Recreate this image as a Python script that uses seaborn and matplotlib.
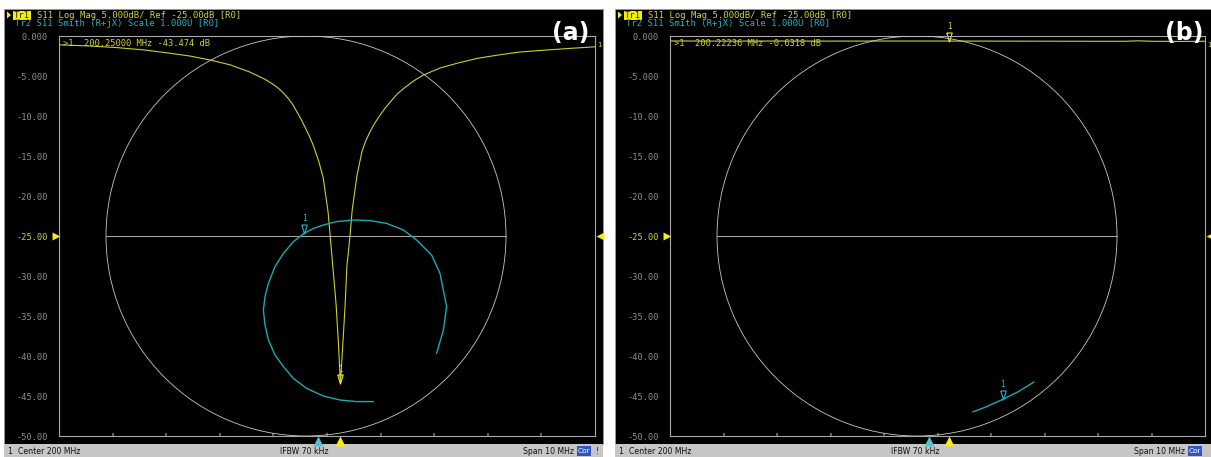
import matplotlib
matplotlib.use("Agg")
import matplotlib.pyplot as plt
import matplotlib.transforms as mtransforms
from matplotlib.patches import Rectangle, Circle, Polygon
import seaborn as sns

# ---------------- data ----------------
# Panel (a): Tr1 S11 log magnitude (MHz, dB)
freq_a = [195.00, 195.58, 196.08, 196.60, 197.01, 197.44, 197.82, 198.19, 198.56, 198.84,
          198.95, 199.07, 199.17, 199.27, 199.36, 199.44, 199.52, 199.59, 199.67, 199.74,
          199.85, 199.93, 200.02, 200.11, 200.17,
          200.21, 200.25, 200.30, 200.34, 200.37, 200.43, 200.47, 200.56, 200.65, 200.72,
          200.80, 200.89, 200.99, 201.08, 201.18, 201.31, 201.46, 201.62, 201.79, 202.11,
          202.43, 202.80, 203.17, 203.60, 204.10, 204.53, 205.00]
db_a = [-1.10, -1.25, -1.45, -1.75, -2.10, -2.50, -3.00, -3.60, -4.50, -5.40,
        -5.85, -6.40, -7.00, -7.75, -8.55, -9.50, -10.45, -11.40, -12.50, -13.60,
        -15.75, -17.75, -22.00, -28.90, -33.60,
        -38.00, -43.474, -38.00, -33.40, -28.90, -24.90, -21.75, -17.40, -14.50, -13.15,
        -12.00, -10.90, -9.90, -9.05, -8.25, -7.25, -6.40, -5.60, -4.90, -4.00,
        -3.40, -2.80, -2.40, -2.00, -1.75, -1.55, -1.35]
# Panel (a): Tr2 S11 Smith trace (reflection coefficient, real / imag)
smith_re_a = [0.653, 0.687, 0.703, 0.670, 0.628, 0.553, 0.487, 0.403, 0.320, 0.237,
              0.153, 0.087, 0.037, -0.010, -0.063, -0.113, -0.155, -0.188, -0.205, -0.213,
              -0.205, -0.188, -0.155, -0.113, -0.063, 0.003, 0.087, 0.170, 0.253, 0.337]
smith_im_a = [-0.587, -0.470, -0.353, -0.187, -0.095, -0.020, 0.030, 0.063, 0.077, 0.080,
              0.072, 0.055, 0.038, 0.013, -0.028, -0.087, -0.153, -0.237, -0.303, -0.370,
              -0.445, -0.520, -0.595, -0.653, -0.712, -0.762, -0.800, -0.820, -0.828, -0.828]
marker_a = {"freq": 200.25, "db": -43.474, "re": -0.010, "im": 0.013}

# Panel (b)
freq_b = [195.0, 195.5, 196.0, 197.0, 198.0, 199.0, 200.0, 200.22236, 201.0, 202.0,
          203.0, 203.5, 203.75, 204.0, 204.5, 205.0]
db_b = [-0.62, -0.63, -0.64, -0.63, -0.64, -0.63, -0.63, -0.6318, -0.64, -0.65,
        -0.66, -0.66, -0.60, -0.66, -0.68, -0.66]
smith_re_b = [0.279, 0.310, 0.349, 0.388, 0.429, 0.505, 0.545, 0.585]
smith_im_b = [-0.880, -0.868, -0.853, -0.835, -0.817, -0.779, -0.755, -0.730]
marker_b = {"freq": 200.22236, "db": -0.6318, "re": 0.429, "im": -0.817}

ytick_vals = [0, -5, -10, -15, -20, -25, -30, -35, -40, -45, -50]
ytick_labels = ["0.000", "-5.000", "-10.00", "-15.00", "-20.00", "-25.00",
                "-30.00", "-35.00", "-40.00", "-45.00", "-50.00"]
header1 = "S11 Log Mag 5.000dB/ Ref -25.00dB [R0]"
header2 = "Tr2 S11 Smith (R+jX) Scale 1.000U [R0]"
readout_a = ">1  200.25000 MHz -43.474 dB"
readout_b = ">1  200.22236 MHz -0.6318 dB"
status_left = "1  Center 200 MHz"
status_mid = "IFBW 70 kHz"
status_right = "Span 10 MHz"
start_f, stop_f = 195.0, 205.0

# ---------------- style ----------------
W, H = 1211, 457
sns.set_theme(style="dark")
plt.rcParams["font.family"] = ["DejaVu Sans"]
MONO = "DejaVu Sans Mono"
YEL = "#cfcf2e"
YEL_TXT = "#d2d23c"
YEL_BRIGHT = "#f2ec10"
CYAN = "#19aab6"
CYAN_TXT = "#22b4c2"
TICK_GRAY = "#8e8e8e"
BOX_GRAY = "#a8a8a8"
SMITH_GRAY = "#c8c8c8"
STATUS_BG = "#c6c6c6"

fig = plt.figure(figsize=(W / 100, H / 100), dpi=100)
fig.patch.set_facecolor("white")
pix = mtransforms.Affine2D().scale(1 / W, -1 / H).translate(0, 1) + fig.transFigure


def ftext(x, y, s, **kw):
    fig.text(x / W, 1 - y / H, s, **kw)


def fpoly(pts, color, z=4):
    fig.add_artist(Polygon(pts, closed=True, facecolor=color, edgecolor="none",
                           transform=pix, zorder=z))


def panel(off, freq, db, sre, sim, mk, readout, label, cyan_tri_f, yel_tri_f):
    px0, px1 = 4 + off, min(603 + off, W)
    bx0, bx1 = 59 + off, 595 + off
    if off > 0:
        bx1 = 1205
    scx = 306 + off
    by0, by1 = 36, 436
    # black screen + status bar
    fig.add_artist(Rectangle((px0, 9), px1 - px0, 435, facecolor="black",
                             edgecolor="#9a9a9a", lw=0.6, transform=pix, zorder=-5))
    fig.add_artist(Rectangle((px0, 444), px1 - px0, 13, facecolor=STATUS_BG,
                             edgecolor="none", transform=pix, zorder=-5))

    # main log-mag axes
    ax = fig.add_axes([bx0 / W, 1 - by1 / H, (bx1 - bx0) / W, (by1 - by0) / H])
    ax.set_facecolor("none")
    sns.lineplot(x=freq, y=db, ax=ax, color=YEL, linewidth=0.8,
                 estimator=None, sort=False, legend=False)
    ax.set_xlim(start_f, stop_f)
    ax.set_ylim(-50, 0)
    ax.set_xlabel("")
    ax.set_ylabel("")
    for sp in ax.spines.values():
        sp.set_color(BOX_GRAY)
        sp.set_linewidth(0.8)
        sp.set_visible(True)
    ax.set_yticks(ytick_vals)
    ax.set_yticklabels(ytick_labels, fontfamily=MONO, fontsize=6.2, color=TICK_GRAY)
    ax.get_yticklabels()[5].set_color(YEL_TXT)
    ax.tick_params(axis="y", length=0, pad=8)
    ax.set_xticks([196, 197, 198, 199, 200, 201, 202, 203, 204])
    ax.set_xticklabels([])
    ax.tick_params(axis="x", bottom=True, direction="in", length=2, color="#707070")
    ax.grid(False)

    # reference-level arrows at -25 dB
    bl = mtransforms.blended_transform_factory(ax.transAxes, ax.transData)
    wpx = bx1 - bx0
    ax.plot([-3.5 / wpx], [-25], marker=">", ms=5.5, color=YEL_BRIGHT, mec="none",
            transform=bl, clip_on=False)
    ax.plot([1 + 4.5 / wpx], [-25], marker="<", ms=5.5, color=YEL_BRIGHT, mec="none",
            transform=bl, clip_on=False)
    # stimulus markers under the grid
    bl2 = mtransforms.blended_transform_factory(ax.transData, ax.transAxes)
    ax.plot([cyan_tri_f], [-4.5 / 400], marker="^", ms=6.5, color="#4cc4d8",
            mec="none", transform=bl2, clip_on=False)
    ax.plot([yel_tri_f], [-4.5 / 400], marker="^", ms=6.5, color=YEL_BRIGHT,
            mec="none", transform=bl2, clip_on=False)

    tri = [(-0.6, 1.0), (0.6, 1.0), (0.0, -1.0), (-0.6, 1.0)]
    # marker on log-mag trace
    t_up = mtransforms.offset_copy(ax.transData, fig=fig, x=0, y=4.5, units="dots")
    ax.plot([mk["freq"]], [mk["db"]], marker=tri, ms=6.5, mfc="none", mec=YEL_BRIGHT,
            mew=0.8, transform=t_up, clip_on=False)
    ax.annotate("1", xy=(mk["freq"], mk["db"]), xytext=(0, 10), textcoords="offset pixels",
                ha="center", va="bottom", fontsize=5.5, color=YEL_TXT, fontfamily=MONO)

    # Smith chart overlay axes (unit circle = 200 px)
    sax = fig.add_axes(ax.get_position(), facecolor="none")
    sax.set_xlim(-(scx - bx0) / 200, (bx1 - scx) / 200)
    sax.set_ylim(-1, 1)
    sax.axis("off")
    sax.add_patch(Circle((0, 0), 1.0, fill=False, edgecolor=SMITH_GRAY, lw=0.6))
    sax.plot([-1, 1], [0, 0], color=SMITH_GRAY, lw=0.6)
    sns.lineplot(x=sre, y=sim, ax=sax, color=CYAN, linewidth=1.0,
                 estimator=None, sort=False, legend=False)
    sax.set_xlim(-(scx - bx0) / 200, (bx1 - scx) / 200)
    sax.set_ylim(-1, 1)
    sax.axis("off")
    t_up2 = mtransforms.offset_copy(sax.transData, fig=fig, x=0, y=4.5, units="dots")
    sax.plot([mk["re"]], [mk["im"]], marker=tri, ms=6.5, mfc="none", mec=CYAN_TXT,
             mew=0.8, transform=t_up2, clip_on=False)
    sax.annotate("1", xy=(mk["re"], mk["im"]), xytext=(0, 10), textcoords="offset pixels",
                 ha="center", va="bottom", fontsize=5.5, color=CYAN_TXT, fontfamily=MONO)

    # header lines
    fpoly([(7 + off, 11.5), (7 + off, 18.5), (11 + off, 15)], YEL_BRIGHT)
    fig.add_artist(Rectangle((13 + off, 11), 18, 8.5, facecolor=YEL_BRIGHT,
                             edgecolor="none", transform=pix, zorder=2))
    ftext(14 + off, 15.3, "Tr1", fontfamily=MONO, fontsize=6.4, color="#303000",
          va="center", ha="left")
    ftext(37 + off, 15.3, header1, fontfamily=MONO, fontsize=6.4, color=YEL_TXT,
          va="center", ha="left")
    ftext(15 + off, 23.5, header2, fontfamily=MONO, fontsize=6.4, color=CYAN_TXT,
          va="center", ha="left")
    # marker readout
    ftext(63 + off, 43.5, readout, fontfamily=MONO, fontsize=6.3, color=YEL_TXT,
          va="center", ha="left")
    ftext(bx1 + 2.5, 45, "1", fontfamily=MONO, fontsize=5, color=YEL_TXT,
          va="center", ha="left")
    # panel label
    ftext(571 + off if off == 0 else 1184, 33, label, fontsize=17, fontweight="bold",
          color="white", va="center", ha="center")

    # status bar
    ftext(8 + off, 451, status_left, fontsize=5.6, color="#101010", va="center", ha="left")
    ftext(304 + off, 451, status_mid, fontsize=5.6, color="#101010", va="center",
          ha="center")
    ftext(574 + off, 451, status_right, fontsize=5.6, color="#101010", va="center",
          ha="right")
    fig.add_artist(Rectangle((577 + off, 445.5), 14, 10.5, facecolor="#2f55c0",
                             edgecolor="none", transform=pix, zorder=2))
    ftext(584 + off, 451, "Cor", fontsize=5.4, color="white", va="center", ha="center")
    if off == 0:
        ftext(597, 451, "!", fontsize=5.6, color="#101010", va="center", ha="center")


panel(0, freq_a, db_a, smith_re_a, smith_im_a, marker_a, readout_a, "(a)", 199.83, 200.25)
panel(611, freq_b, db_b, smith_re_b, smith_im_b, marker_b, readout_b, "(b)", 199.84, 200.22)

fig.savefig("out.png", dpi=100, facecolor="white")
